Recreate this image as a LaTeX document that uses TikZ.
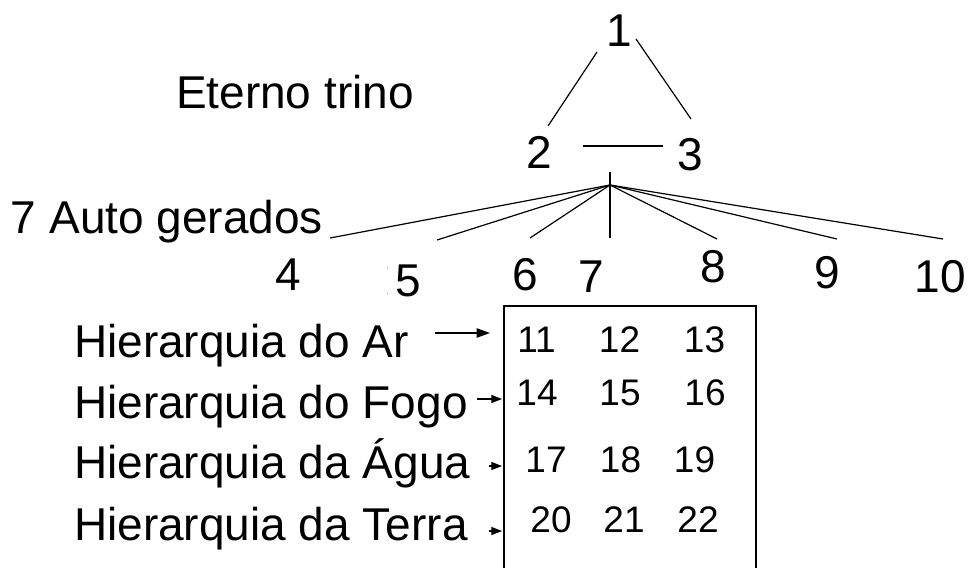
\documentclass[tikz,border=0pt]{standalone}
\usepackage{fontspec}
\setmainfont{Liberation Sans}
\usetikzlibrary{arrows.meta}
\begin{document}
\begin{tikzpicture}[x=0.75pt,y=-0.75pt,
  big/.style={inner sep=0pt,outer sep=0pt,anchor=base,font=\fontsize{34.5pt}{40pt}\selectfont},
  bigleft/.style={big,anchor=base west},
  small/.style={inner sep=0pt,outer sep=0pt,anchor=base,font=\fontsize{27.75pt}{32pt}\selectfont},
  ln/.style={line width=0.9pt,black},
  arr/.style={line width=0.9pt,-{Triangle[length=8pt,width=6pt]}},
  arrbig/.style={line width=0.9pt,-{Triangle[length=10pt,width=7pt]}}]
\useasboundingbox (0,0) rectangle (969,567);
\fill[white] (0,0) rectangle (969,567);

% top triangle
\node[big] (n1) at (619.5,47) {1};
\node[big] (n2) at (539,168) {2};
\node[big] (n3) at (690,170) {3};
\coordinate (a12) at (597,52); \coordinate (b12) at (548,126);
\coordinate (a13) at (636,39); \coordinate (b13) at (691,119);
\coordinate (a23) at (583,146); \coordinate (b23) at (663,146);
\draw[ln] (a12) -- (b12);
\draw[ln] (a13) -- (b13);
\draw[ln] (a23) -- (b23);

\node[bigleft] (eterno) at (176,108) {Eterno trino};
\node[bigleft] (auto) at (11,233) {7 Auto gerados};

% fan
\coordinate (hub) at (610,185);
\coordinate (top) at (610,172);
\coordinate (e4) at (330,238);
\coordinate (e5) at (437,240);
\coordinate (e6) at (530,238);
\coordinate (e7) at (610,238);
\coordinate (e8) at (717,239);
\coordinate (e9) at (837,239);
\coordinate (e10) at (943,239);
\draw[ln] (top) -- (e7);
\foreach \e in {e4,e5,e6,e8,e9,e10} \draw[ln] (hub) -- (\e);

\node[big] (n4) at (288,290) {4};
\node[big] (n5) at (408,296) {5};
\fill[gray!40] (386.5,265.5) rectangle (388,268.5);
\fill[gray!40] (386.5,291.5) rectangle (388,294.5);
\node[big] (n6) at (525,290) {6};
\node[big] (n7) at (591,292) {7};
\node[big] (n8) at (713,282) {8};
\node[big] (n9) at (827,288) {9};
\node[big] (n10) at (940,292) {10};

% box
\coordinate (bl) at (504,568);
\coordinate (tl) at (504,306);
\coordinate (tr) at (756,306);
\coordinate (br) at (756,568);
\draw[ln] (bl) -- (tl) -- (tr) -- (br);

\node[small] (n11) at (536.5,352) {11};
\node[small] (n12) at (619.5,352) {12};
\node[small] (n13) at (704.5,352) {13};
\node[small] (n14) at (537,405) {14};
\node[small] (n15) at (620,405) {15};
\node[small] (n16) at (705,405) {16};
\node[small] (n17) at (546,472) {17};
\node[small] (n18) at (620.5,472) {18};
\node[small] (n19) at (694.5,472) {19};
\node[small] (n20) at (551,532) {20};
\node[small] (n21) at (624,532) {21};
\node[small] (n22) at (698,532) {22};

% hierarchies
\node[bigleft] (h1) at (74,357) {Hierarquia do Ar};
\node[bigleft] (h2) at (74,418) {Hierarquia do Fogo};
\node[bigleft] (h3) at (74,478) {Hierarquia da Água};
\node[bigleft] (h4) at (74,540) {Hierarquia da Terra};
\coordinate (s1) at (435,333); \coordinate (t1) at (490,333);
\coordinate (s2) at (477,399); \coordinate (t2) at (502,399);
\coordinate (s3) at (489,466); \coordinate (t3) at (502,466);
\coordinate (s4) at (489,531); \coordinate (t4) at (502,531);
\draw[arrbig] (s1) -- (t1);
\draw[arr] (s2) -- (t2);
\draw[arr] (s3) -- (t3);
\draw[arr] (s4) -- (t4);
\end{tikzpicture}
\end{document}
